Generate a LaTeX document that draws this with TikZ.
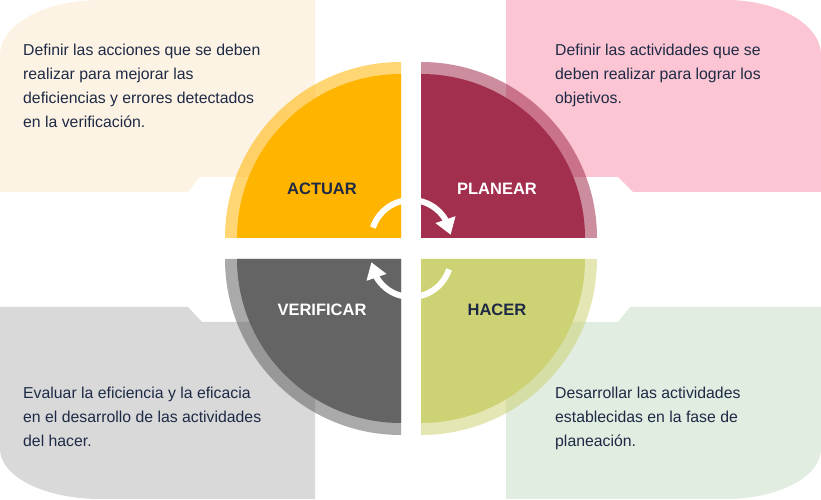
\documentclass[tikz,border=0pt]{standalone}
\usepackage{fontspec}
\setmainfont{Liberation Sans}
\usetikzlibrary{arrows.meta,bending}

\definecolor{txtnavy}{HTML}{1E2A45}
\definecolor{cardcream}{HTML}{FDF3E4}
\definecolor{cardpink}{HTML}{FBC5D3}
\definecolor{cardgray}{HTML}{D9D9D9}
\definecolor{cardgreen}{HTML}{E0EDE0}
\definecolor{actuarc}{HTML}{FFB400}
\definecolor{planearc}{HTML}{A32F4F}
\definecolor{verifc}{HTML}{646464}
\definecolor{hacerc}{HTML}{CDD274}

\tikzset{
  bodytext/.style={anchor=north west, inner sep=0pt, align=left,
    text=txtnavy, font=\fontsize{15.8}{24}\selectfont},
  phaselabel/.style={inner sep=0pt, font=\fontsize{16.5}{18}\selectfont\bfseries},
  ring/.style={fill=#1, fill opacity=0.55},
  cyclearrow/.style={draw=white, line width=6pt,
    -{Triangle[length=16pt,width=20pt]}},
}

\begin{document}
\begin{tikzpicture}[x=1pt,y=1pt]
\useasboundingbox (0,0) rectangle (821,500);

% background cards
\fill[cardcream] (0,308) -- (188,308) -- (200,323) -- (315,323) -- (315,500)
  -- (100,500) arc[start angle=90,end angle=180,x radius=100,y radius=55] -- cycle;
\fill[cardpink] (821,308) -- (633,308) -- (618,323) -- (506,323) -- (506,500)
  -- (726,500) arc[start angle=90,end angle=0,x radius=95,y radius=55] -- cycle;
\fill[cardgray] (0,193) -- (188,193) -- (202,178) -- (315,178) -- (315,1)
  -- (100,1) arc[start angle=270,end angle=180,x radius=100,y radius=50] -- cycle;
\fill[cardgreen] (821,193) -- (630,193) -- (618,178) -- (506,178) -- (506,1)
  -- (726,1) arc[start angle=270,end angle=360,x radius=95,y radius=50] -- cycle;

% quadrant centres
\coordinate (qa) at (401,262);
\coordinate (qp) at (421,262);
\coordinate (qv) at (401,241);
\coordinate (qh) at (421,241);

% translucent outer rings
\fill[ring=actuarc] (qa) -- ++(180:176) arc[start angle=180,end angle=90,radius=176] -- cycle;
\fill[ring=planearc] (qp) -- ++(0:176) arc[start angle=0,end angle=90,radius=176] -- cycle;
\fill[ring=verifc] (qv) -- ++(180:176) arc[start angle=180,end angle=270,radius=176] -- cycle;
\fill[ring=hacerc] (qh) -- ++(270:176) arc[start angle=270,end angle=360,radius=176] -- cycle;

% solid quadrants
\fill[actuarc] (qa) -- ++(180:164) arc[start angle=180,end angle=90,radius=164] -- cycle;
\fill[planearc] (qp) -- ++(0:164) arc[start angle=0,end angle=90,radius=164] -- cycle;
\fill[verifc] (qv) -- ++(180:164) arc[start angle=180,end angle=270,radius=164] -- cycle;
\fill[hacerc] (qh) -- ++(270:164) arc[start angle=270,end angle=360,radius=164] -- cycle;

% phase labels
\node[phaselabel, text=txtnavy] (actuar) at (322,311) {ACTUAR};
\node[phaselabel, text=white] (planear) at (497,311) {PLANEAR};
\node[phaselabel, text=white] (verificar) at (322,190) {VERIFICAR};
\node[phaselabel, text=txtnavy] (hacer) at (497,190) {HACER};

% cycle arrows
\coordinate (ctop) at (411,260);
\coordinate (cbot) at (411,243);
\draw[cyclearrow] (ctop) ++(162:40) arc[start angle=162,end angle=7.5,radius=40];
\draw[cyclearrow] (cbot) ++(342:40) arc[start angle=342,end angle=187.5,radius=40];

% descriptions
\node[bodytext] (tactuar) at (23,456.5) {Definir las acciones que se deben\\realizar para mejorar las\\deficiencias y errores detectados\\en la verificación.};
\node[bodytext] (tplanear) at (555,456.5) {Definir las actividades que se\\deben realizar para lograr los\\objetivos.};
\node[bodytext] (tverificar) at (23,113.5) {Evaluar la eficiencia y la eficacia\\en el desarrollo de las actividades\\del hacer.};
\node[bodytext] (thacer) at (555,113.5) {Desarrollar las actividades\\establecidas en la fase de\\planeación.};
\end{tikzpicture}
\end{document}
